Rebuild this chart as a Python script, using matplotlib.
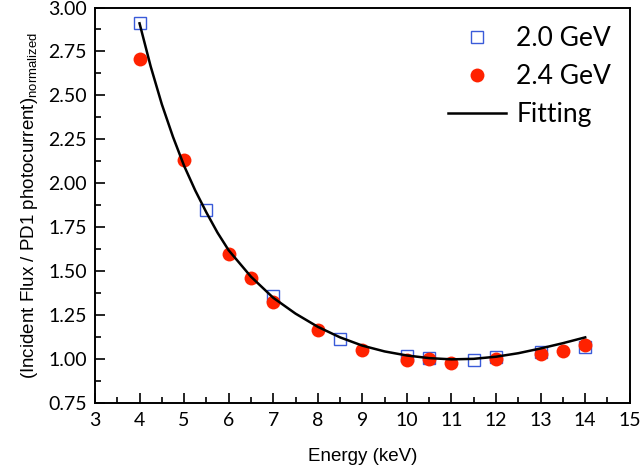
import matplotlib
matplotlib.use("Agg")
import matplotlib.pyplot as plt
from matplotlib.ticker import MultipleLocator

#DATA
energy_20 = [4.0, 5.5, 7.0, 8.5, 10.0, 10.5, 11.5, 12.0, 13.0, 14.0]
flux_20 = [2.91, 1.85, 1.36, 1.115, 1.02, 1.005, 0.995, 1.015, 1.04, 1.07]

energy_24 = [4.0, 5.0, 6.0, 6.5, 7.0, 8.0, 9.0, 10.0, 10.5, 11.0, 12.0, 13.0, 13.5, 14.0]
flux_24 = [2.71, 2.135, 1.60, 1.46, 1.325, 1.165, 1.052, 0.997, 1.0, 0.98, 1.0, 1.028, 1.05, 1.08]

fit_energy = [4.0, 4.25, 4.5, 4.75, 5.0, 5.25, 5.5, 5.75, 6.0, 6.5, 7.0, 7.5, 8.0,
              8.5, 9.0, 9.5, 10.0, 10.5, 11.0, 11.5, 12.0, 12.5, 13.0, 13.5, 14.0]
fit_flux = [2.91, 2.665, 2.45, 2.265, 2.10, 1.96, 1.835, 1.72, 1.62, 1.47, 1.35, 1.26, 1.185,
            1.125, 1.078, 1.045, 1.022, 1.007, 1.0, 1.003, 1.015, 1.035, 1.062, 1.092, 1.125]

#PLOT
plt.rcParams["font.family"] = ["Liberation Sans", "DejaVu Sans"]
plt.rcParams["mathtext.fontset"] = "custom"
plt.rcParams["mathtext.rm"] = "Liberation Sans"

fig = plt.figure(figsize=(6.4, 4.69), dpi=100)
ax = fig.add_axes([0.1484, 0.140, 0.8356, 0.844])

ax.plot(energy_20, flux_20, "s", markersize=8, markerfacecolor="none",
        markeredgecolor="#3a5bd9", markeredgewidth=1.0, label="2.0 GeV", zorder=2)
ax.plot(energy_24, flux_24, "o", markersize=10, color="#ff2200",
        markeredgewidth=0, label="2.4 GeV", zorder=3)
ax.plot(fit_energy, fit_flux, "-", color="black", linewidth=1.8, label="Fitting", zorder=4)

ax.set_xlim(3, 15)
ax.set_ylim(0.75, 3.0)
ax.xaxis.set_major_locator(MultipleLocator(1))
ax.xaxis.set_minor_locator(MultipleLocator(0.5))
ax.yaxis.set_major_locator(MultipleLocator(0.25))
ax.yaxis.set_minor_locator(MultipleLocator(0.125))
ax.tick_params(which="both", direction="in", top=False, right=False, width=1.2)
ax.tick_params(which="major", length=7, labelsize=14, pad=6)
ax.tick_params(which="minor", length=4)
ax.yaxis.set_major_formatter(matplotlib.ticker.FormatStrFormatter("%.2f"))
for lbl in ax.get_xticklabels() + ax.get_yticklabels():
    lbl.set_family(["Lato", "DejaVu Sans"])
for s in ax.spines.values():
    s.set_linewidth(1.4)

ax.set_xlabel("Energy (keV)", fontsize=13.5, labelpad=14)
ax.set_ylabel(r"(Incident Flux / PD1 photocurrent)$_{\mathregular{normalized}}$", fontsize=13.5, labelpad=6)

ax.legend(loc="upper right", frameon=False, prop={"family": "Lato", "size": 19},
          handlelength=2.2, handletextpad=0.4, labelspacing=0.5, borderaxespad=0.3,
          borderpad=0.4)

fig.savefig("out.png", dpi=100)
